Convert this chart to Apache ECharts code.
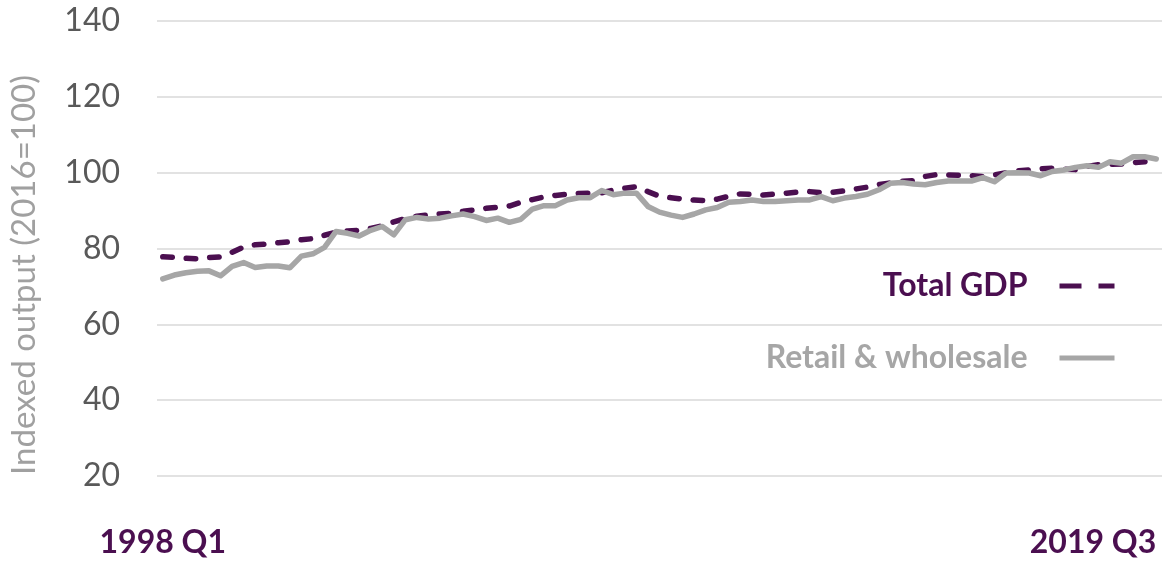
<!DOCTYPE html>
<html>
<head>
<meta charset="utf-8">
<script src="https://cdn.jsdelivr.net/npm/echarts@6/dist/echarts.min.js"></script>
<style>
  html, body { margin: 0; padding: 0; background: #fff; }
  #chart { width: 1171px; height: 562px; }
</style>
</head>
<body>
<div id="chart"></div>
<script>
// quarters 1998 Q1 .. 2019 Q3
const quarters = [];
for (let y = 1998; y <= 2019; y++) {
  for (let q = 1; q <= 4; q++) {
    if (y === 2019 && q > 3) break;
    quarters.push(y + " Q" + q);
  }
}

// Total GDP, indexed 2016=100
const totalGdp = [
  77.8, 77.7, 77.4, 77.3, 77.6, 77.8, 79.0, 80.4, 81.0, 81.2,
  81.5, 81.8, 82.3, 82.6, 83.5, 84.3, 84.6, 84.8, 85.3, 86.0,
  87.0, 87.9, 88.5, 88.9, 89.1, 89.3, 89.8, 90.2, 90.6, 90.9,
  91.2, 92.2, 92.9, 93.6, 94.0, 94.3, 94.5, 94.6, 94.7, 95.4,
  95.9, 96.3, 95.0, 93.8, 93.4, 93.0, 92.8, 92.6, 93.0, 93.8,
  94.4, 94.3, 94.1, 94.4, 94.6, 94.9, 95.0, 94.7, 94.8, 95.2,
  95.7, 96.2, 96.9, 97.3, 97.7, 97.9, 99.0, 99.5, 99.4, 99.3,
  99.2, 99.0, 99.4, 100.0, 100.5, 100.7, 101.0, 101.2, 100.9, 100.8,
  101.6, 102.1, 102.2, 102.3, 102.6, 102.9, 103.0
];

// Retail & wholesale, indexed 2016=100
const retailWholesale = [
  72.0, 73.0, 73.6, 74.0, 74.1, 72.8, 75.3, 76.3, 75.0, 75.4,
  75.4, 74.9, 78.0, 78.6, 80.3, 84.5, 84.0, 83.3, 84.8, 85.8,
  83.6, 87.6, 88.2, 87.8, 88.0, 88.6, 89.1, 88.4, 87.4, 88.0,
  86.9, 87.7, 90.4, 91.3, 91.3, 92.8, 93.4, 93.4, 95.3, 94.2,
  94.6, 94.6, 91.1, 89.6, 88.8, 88.2, 89.1, 90.2, 90.8, 92.2,
  92.4, 92.8, 92.4, 92.4, 92.6, 92.8, 92.8, 93.7, 92.6, 93.3,
  93.7, 94.3, 95.5, 97.2, 97.4, 97.0, 96.8, 97.4, 97.8, 97.8,
  97.8, 98.7, 97.6, 99.9, 100.0, 99.9, 99.2, 100.3, 100.7, 101.4,
  101.8, 101.4, 102.9, 102.5, 104.2, 104.2, 103.6
];

const yTicks = [20, 40, 60, 80, 100, 120, 140];

const PURPLE = "#4b0f50";
const GREY = "#a6a6a6";
const FONT = "Lato, 'Open Sans', sans-serif";

const chart = echarts.init(document.getElementById("chart"));

const option = {
  animation: false,
  textStyle: { fontFamily: FONT },
  grid: { left: 156, right: 9, top: 21, bottom: 86, containLabel: false },
  legend: {
    orient: "vertical",
    right: 49,
    top: 263,
    align: "right",
    itemWidth: 55,
    itemHeight: 14,
    itemGap: 36,
    selectedMode: false,
    itemStyle: { opacity: 0 },
    textStyle: {
      fontFamily: FONT,
      fontSize: 32,
      fontWeight: "bold",
      lineHeight: 36,
      padding: [0, 27, 0, 0]
    },
    data: [
      {
        name: "Total GDP",
        textStyle: { color: PURPLE },
        lineStyle: { type: [22, 17], cap: "butt", width: 5, color: PURPLE }
      },
      {
        name: "Retail & wholesale",
        textStyle: { color: GREY },
        lineStyle: { type: "solid", cap: "butt", width: 5, color: GREY }
      }
    ]
  },
  xAxis: {
    type: "category",
    data: quarters,
    boundaryGap: true,
    axisLine: { show: false },
    axisTick: { show: false },
    axisLabel: {
      interval: (index) => index === 0 || index === quarters.length - 1,
      color: PURPLE,
      fontFamily: FONT,
      fontSize: 32,
      fontWeight: "bold",
      margin: 51,
      alignMaxLabel: "right"
    }
  },
  yAxis: {
    type: "value",
    min: yTicks[0],
    max: yTicks[yTicks.length - 1],
    interval: 20,
    name: "Indexed output (2016=100)",
    nameLocation: "middle",
    nameGap: 116,
    nameTextStyle: {
      color: "#a0a0a0",
      fontFamily: FONT,
      fontSize: 33,
      padding: [0, 53, 0, 0]
    },
    axisLine: { show: false },
    axisTick: { show: false },
    axisLabel: {
      color: "#595959",
      fontFamily: FONT,
      fontSize: 32,
      margin: 37
    },
    splitLine: { lineStyle: { color: "#d9d9d9", width: 1.5 } }
  },
  series: [
    {
      name: "Total GDP",
      type: "line",
      data: totalGdp,
      symbol: "none",
      color: PURPLE,
      lineStyle: { color: PURPLE, width: 5.5, type: [9.5, 14], cap: "round" }
    },
    {
      name: "Retail & wholesale",
      type: "line",
      data: retailWholesale,
      symbol: "none",
      color: GREY,
      lineStyle: { color: GREY, width: 5.5, cap: "round", join: "round" }
    }
  ]
};

chart.setOption(option);
</script>
</body>
</html>
